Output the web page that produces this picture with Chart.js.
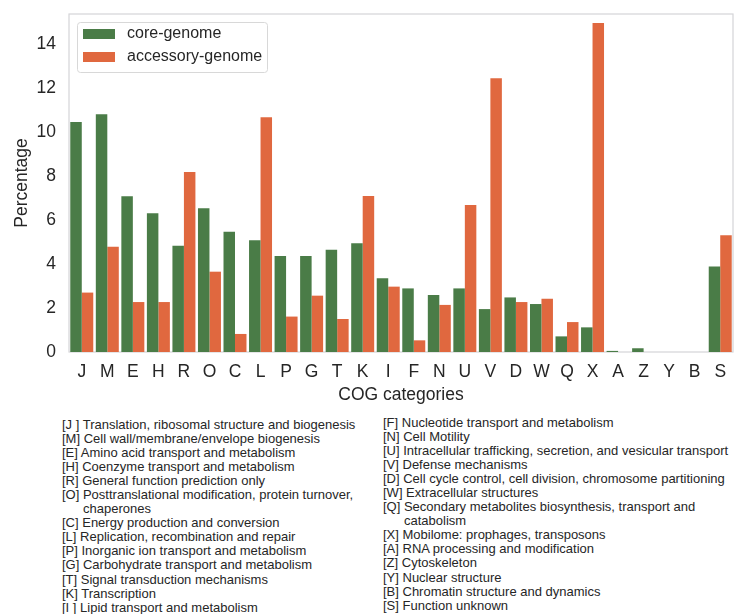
<!DOCTYPE html>
<html>
<head>
<meta charset="utf-8">
<script src="https://cdn.jsdelivr.net/npm/chart.js@4/dist/chart.umd.min.js"></script>
<style>
  html, body { margin: 0; padding: 0; background: #ffffff; }
  #wrap { position: relative; width: 734px; height: 614px; overflow: hidden; }
  #chart { position: absolute; left: 0; top: 0; }
  .col { position: absolute; font-family: 'Liberation Sans', Arial, sans-serif; font-size: 13px;
         line-height: 14.05px; color: #262626; white-space: nowrap; }
  .col div.cont { padding-left: 21px; }
</style>
</head>
<body>
<div id="wrap">
  <canvas id="chart" width="734" height="410"></canvas>
  <div class="col" id="leftCol" style="left:62px; top:418px;"></div>
  <div class="col" id="rightCol" style="left:383px; top:416px;"></div>
</div>
<script>
// COG functional categories along the x axis
const categories = ['J','M','E','H','R','O','C','L','P','G','T','K','I','F','N','U','V','D','W','Q','X','A','Z','Y','B','S'];

// Share of genes (%) in each COG category
const coreGenome      = [10.45, 10.8, 7.08, 6.3, 4.83, 6.53, 5.47, 5.08, 4.36, 4.36, 4.65, 4.94, 3.35, 2.89, 2.59, 2.89, 1.95, 2.48, 2.18, 0.71, 1.12, 0.05, 0.17, 0, 0, 3.89];
const accessoryGenome = [2.7, 4.78, 2.27, 2.27, 8.18, 3.65, 0.82, 10.67, 1.61, 2.56, 1.5, 7.09, 2.97, 0.53, 2.14, 6.68, 12.44, 2.27, 2.42, 1.36, 14.95, 0, 0, 0, 0, 5.3];

const seriesNames = ['core-genome', 'accessory-genome'];
const yTicks = [0, 2, 4, 6, 8, 10, 12, 14];

// Category descriptions listed under the chart
const descLeft = [
  ['[J ] Translation, ribosomal structure and biogenesis'],
  ['[M] Cell wall/membrane/envelope biogenesis'],
  ['[E] Amino acid transport and metabolism'],
  ['[H] Coenzyme transport and metabolism'],
  ['[R] General function prediction only'],
  ['[O] Posttranslational modification, protein turnover,', 'chaperones'],
  ['[C] Energy production and conversion'],
  ['[L] Replication, recombination and repair'],
  ['[P] Inorganic ion transport and metabolism'],
  ['[G] Carbohydrate transport and metabolism'],
  ['[T] Signal transduction mechanisms'],
  ['[K] Transcription'],
  ['[I ] Lipid transport and metabolism']
];
const descRight = [
  ['[F] Nucleotide transport and metabolism'],
  ['[N] Cell Motility'],
  ['[U] Intracellular trafficking, secretion, and vesicular transport'],
  ['[V] Defense mechanisms'],
  ['[D] Cell cycle control, cell division, chromosome partitioning'],
  ['[W] Extracellular structures'],
  ['[Q] Secondary metabolites biosynthesis, transport and', 'catabolism'],
  ['[X] Mobilome: prophages, transposons'],
  ['[A] RNA processing and modification'],
  ['[Z] Cytoskeleton'],
  ['[Y] Nuclear structure'],
  ['[B] Chromatin structure and dynamics'],
  ['[S] Function unknown']
];

function fillColumn(el, entries) {
  entries.forEach(lines => {
    lines.forEach((txt, i) => {
      const d = document.createElement('div');
      if (i > 0) d.className = 'cont';
      d.textContent = txt;
      el.appendChild(d);
    });
  });
}
fillColumn(document.getElementById('leftCol'), descLeft);
fillColumn(document.getElementById('rightCol'), descRight);

const GREEN = '#4a7c47';
const ORANGE = '#e0683f';
const TEXT = '#262626';
const FONT = "'Liberation Sans', Arial, sans-serif";

// Light frame around the plotting area
const framePlugin = {
  id: 'frame',
  beforeDatasetsDraw(chart) {
    const { ctx, chartArea: a } = chart;
    ctx.save();
    ctx.strokeStyle = '#d4d4d8';
    ctx.lineWidth = 1.2;
    ctx.strokeRect(a.left, a.top, a.right - a.left, a.bottom - a.top);
    ctx.restore();
  }
};

// Boxed legend in the upper-left corner of the plot
const boxLegend = {
  id: 'boxLegend',
  afterDatasetsDraw(chart) {
    const { ctx, chartArea: a } = chart;
    const x = a.left + 8, y = a.top + 8, w = 190, h = 50;
    ctx.save();
    ctx.fillStyle = 'rgba(255,255,255,0.85)';
    ctx.strokeStyle = '#d8d8d8';
    ctx.lineWidth = 1;
    ctx.beginPath();
    ctx.roundRect(x + 0.5, y + 0.5, w, h, 3);
    ctx.fill();
    ctx.stroke();
    ctx.font = '16px ' + FONT;
    ctx.textBaseline = 'middle';
    chart.data.datasets.forEach((ds, i) => {
      const cy = y + 12 + i * 23;
      ctx.fillStyle = ds.backgroundColor;
      ctx.fillRect(x + 6, cy - 5, 32, 10);
      ctx.fillStyle = TEXT;
      ctx.fillText(ds.label, x + 50, cy);
    });
    ctx.restore();
  }
};

new Chart(document.getElementById('chart'), {
  type: 'bar',
  data: {
    labels: categories,
    datasets: [
      { label: seriesNames[0], data: coreGenome, backgroundColor: GREEN, borderWidth: 0 },
      { label: seriesNames[1], data: accessoryGenome, backgroundColor: ORANGE, borderWidth: 0 }
    ]
  },
  options: {
    responsive: false,
    devicePixelRatio: 1,
    animation: false,
    datasets: { bar: { categoryPercentage: 0.9, barPercentage: 1.0 } },
    layout: { padding: { top: 14, right: 1, left: 0, bottom: 0 } },
    plugins: { legend: { display: false }, tooltip: { enabled: false } },
    scales: {
      x: {
        grid: { display: false, drawTicks: false },
        border: { display: false },
        ticks: { color: TEXT, font: { family: FONT, size: 17.5 }, padding: 10, maxRotation: 0, autoSkip: false },
        title: { display: true, text: 'COG categories', color: TEXT, font: { family: FONT, size: 17.5 }, padding: { top: 0, bottom: 4 } },
        afterFit(s) { s.height = 58; s.paddingLeft = 0; s.paddingRight = 0; }
      },
      y: {
        min: 0,
        max: 15.36,
        grid: { display: false, drawTicks: false },
        border: { display: false },
        afterBuildTicks(s) { s.ticks = yTicks.map(v => ({ value: v })); },
        ticks: { color: TEXT, font: { family: FONT, size: 17.5 }, padding: 13 },
        title: { display: true, text: 'Percentage', color: TEXT, font: { family: FONT, size: 17.5 }, padding: { top: 12, bottom: 0 } },
        afterFit(s) { s.width = 69; s.paddingTop = 0; s.paddingBottom = 0; }
      }
    }
  },
  plugins: [framePlugin, boxLegend]
});
</script>
</body>
</html>
